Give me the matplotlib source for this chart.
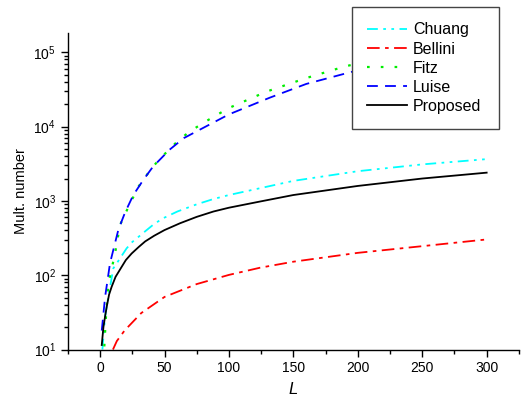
import matplotlib
matplotlib.use("Agg")
import matplotlib.pyplot as plt

plt.rcParams['font.family'] = ['Liberation Sans', 'DejaVu Sans']
plt.rcParams['mathtext.fontset'] = 'custom'
plt.rcParams['mathtext.rm'] = 'Liberation Sans'
plt.rcParams['mathtext.it'] = 'Liberation Sans:italic'

# values (log scale)
L_chuang = [1.8, 3.9, 6.4, 10.3, 13, 20.6, 25, 30, 35, 42, 49, 60, 75, 88, 100, 124, 150, 200, 250, 300]
chuang = [10, 28, 51, 124, 145, 230, 280, 330, 390, 490, 585, 720, 900, 1060, 1200, 1480, 1860, 2510, 3100, 3650]

L_bellini = [10, 13, 19, 32, 50, 75, 100, 124, 150, 200, 250, 300]
bellini = [10, 13, 18, 31, 51, 76, 101, 126, 152, 200, 246, 303]

L_fitz = [3.3, 4.4, 6.5, 11.6, 15.5, 22, 29.7, 40, 46.5, 60.7, 70, 84, 100, 129, 160, 190, 220, 250, 300]
fitz = [11, 25, 78, 196, 475, 830, 1550, 2750, 3700, 6500, 8700, 12300, 17800, 29500, 45000,
        64500, 85000, 110000, 158000]

L_luise = [1.3, 3.9, 7.7, 14.2, 19.4, 25.8, 33.5, 41, 54, 65, 80, 100, 131.7, 160, 193.6, 220, 250, 300]
luise = [18, 51, 145, 410, 700, 1200, 1910, 2880, 4900, 7000, 9600, 14600, 24500, 37500, 53600,
         70000, 89000, 128000]

L_prop = [1.3, 2.6, 3.9, 5.2, 7, 9, 12, 16.8, 20, 24.5, 30, 35, 42, 50, 62, 75, 88, 100, 124, 150, 200, 250, 300]
proposed = [11.5, 20, 28, 38, 55, 70, 95, 130, 160, 196, 240, 285, 340, 405, 500, 610, 720, 810, 980,
            1200, 1590, 2000, 2400]

fig = plt.figure(figsize=(5.22, 3.99), dpi=100)
ax = fig.add_axes([0.130, 0.124, 0.864, 0.7925])

ax.plot(L_chuang, chuang, color='cyan', lw=1.3, ls=(0, (6, 3, 1.5, 3, 1.5, 3)), label='Chuang')
ax.plot(L_bellini, bellini, color='red', lw=1.3, ls=(0, (7, 3, 2, 3)), label='Bellini')
ax.plot(L_fitz, fitz, color='#00ee00', lw=1.6, ls=(0, (1.2, 5)), label='Fitz')
ax.plot(L_luise, luise, color='blue', lw=1.3, ls=(0, (6, 4)), label='Luise')
ax.plot(L_prop, proposed, color='black', lw=1.3, ls='-', label='Proposed')

ax.set_yscale('log')
ax.set_xlim(-25, 325)
ax.set_ylim(10, 1.8e5)
ax.set_xticks([0, 50, 100, 150, 200, 250, 300])
ax.set_xticks([-25, 25, 75, 125, 175, 225, 275, 325], minor=True)

for s in ['top', 'right']:
    ax.spines[s].set_visible(False)
ax.spines['left'].set_linewidth(1.0)
ax.spines['bottom'].set_linewidth(1.0)
ax.tick_params(which='major', direction='out', length=5, width=1, labelsize=10)
ax.tick_params(which='minor', direction='out', length=3, width=1)

ax.set_xlabel('$\\mathit{L}$', fontsize=12, labelpad=4)
ax.set_ylabel('Mult. number', fontsize=10.5, labelpad=4)

leg = fig.legend(loc='upper left', bbox_to_anchor=(0.674, 0.677, 0.282, 0.305),
                 mode='expand', fontsize=11.5, frameon=True, fancybox=False, framealpha=1,
                 borderaxespad=0, handlelength=2.5, handletextpad=0.37,
                 labelspacing=0.26, borderpad=0.95)
leg.get_frame().set_edgecolor('#444444')
leg.get_frame().set_linewidth(1.0)

fig.savefig('out.png', dpi=100)
